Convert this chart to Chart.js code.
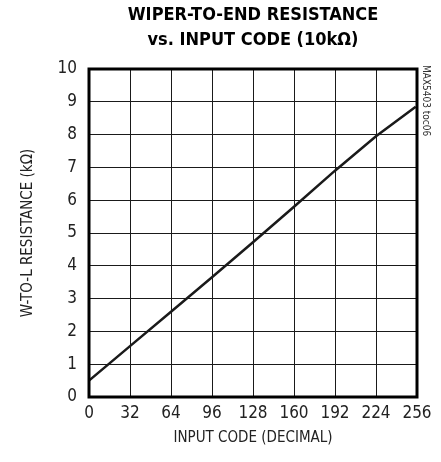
<!DOCTYPE html>
<html>
<head>
<meta charset="utf-8">
<script src="https://cdn.jsdelivr.net/npm/chart.js@4/dist/chart.umd.min.js"></script>
<style>
  html, body { margin: 0; padding: 0; background: #fff; }
  #wrap { width: 441px; height: 462px; }
</style>
</head>
<body>
<div id="wrap"><canvas id="chart" width="441" height="462"></canvas></div>
<script>
// input code vs wiper-to-L resistance (kOhm)
const codes = [0, 32, 64, 96, 128, 160, 192, 224, 255];
const resistance = [0.5, 1.55, 2.6, 3.65, 4.72, 5.8, 6.9, 7.95, 8.85];

const titleLines = ['WIPER-TO-END RESISTANCE', 'vs. INPUT CODE (10k\u03A9)'];
const xTitle = 'INPUT CODE (DECIMAL)';
const yTitle = 'W-TO-L RESISTANCE (k\u03A9)';
const sideNote = 'MAX5403 toc06';

const FONT = '"Liberation Sans Narrow", "DejaVu Sans Condensed", Arial, sans-serif';

// thick frame + little rotated figure id on the right
const framePlugin = {
  id: 'frame',
  afterDraw(chart) {
    const { ctx, chartArea: a } = chart;
    ctx.save();
    ctx.strokeStyle = '#000';
    ctx.lineWidth = 3;
    ctx.strokeRect(a.left, a.top, a.right - a.left, a.bottom - a.top);
    ctx.translate(a.right + 9, a.top - 4);
    ctx.rotate(Math.PI / 2);
    ctx.font = '10px ' + FONT;
    ctx.fillStyle = '#333';
    ctx.textBaseline = 'middle';
    ctx.fillText(sideNote, 0, 0);
    ctx.restore();
  }
};

new Chart(document.getElementById('chart'), {
  type: 'line',
  data: {
    datasets: [{
      data: codes.map((c, i) => ({ x: c, y: resistance[i] })),
      borderColor: '#1a1a1a',
      borderWidth: 2.5,
      pointRadius: 0,
      tension: 0
    }]
  },
  options: {
    responsive: false,
    animation: false,
    layout: { padding: { left: 0, right: 24, top: 0, bottom: 0 } },
    plugins: {
      legend: { display: false },
      tooltip: { enabled: false },
      title: {
        display: true,
        fullSize: false,
        text: titleLines,
        color: '#000',
        font: { family: FONT, size: 18, weight: 'bold', lineHeight: 25 / 18 },
        padding: { top: 3, bottom: 16 }
      }
    },
    scales: {
      x: {
        type: 'linear',
        min: 0,
        max: 256,
        afterFit(scale) { scale.height = 65; },
        ticks: { stepSize: 32, color: '#222', padding: 6, font: { family: FONT, size: 17 } },
        grid: { color: '#1a1a1a', lineWidth: 1, drawTicks: false },
        border: { display: false },
        title: {
          display: true,
          text: xTitle,
          color: '#222',
          font: { family: FONT, size: 15 },
          padding: { top: 4, bottom: 15 }
        }
      },
      y: {
        min: 0,
        max: 10,
        afterFit(scale) { scale.width = 89; },
        ticks: { stepSize: 1, color: '#222', padding: 12, font: { family: FONT, size: 17 } },
        grid: { color: '#1a1a1a', lineWidth: 1, drawTicks: false },
        border: { display: false },
        title: {
          display: true,
          text: yTitle,
          color: '#222',
          font: { family: FONT, size: 15 },
          padding: { top: 19, bottom: 4 }
        }
      }
    }
  },
  plugins: [framePlugin]
});
</script>
</body>
</html>
